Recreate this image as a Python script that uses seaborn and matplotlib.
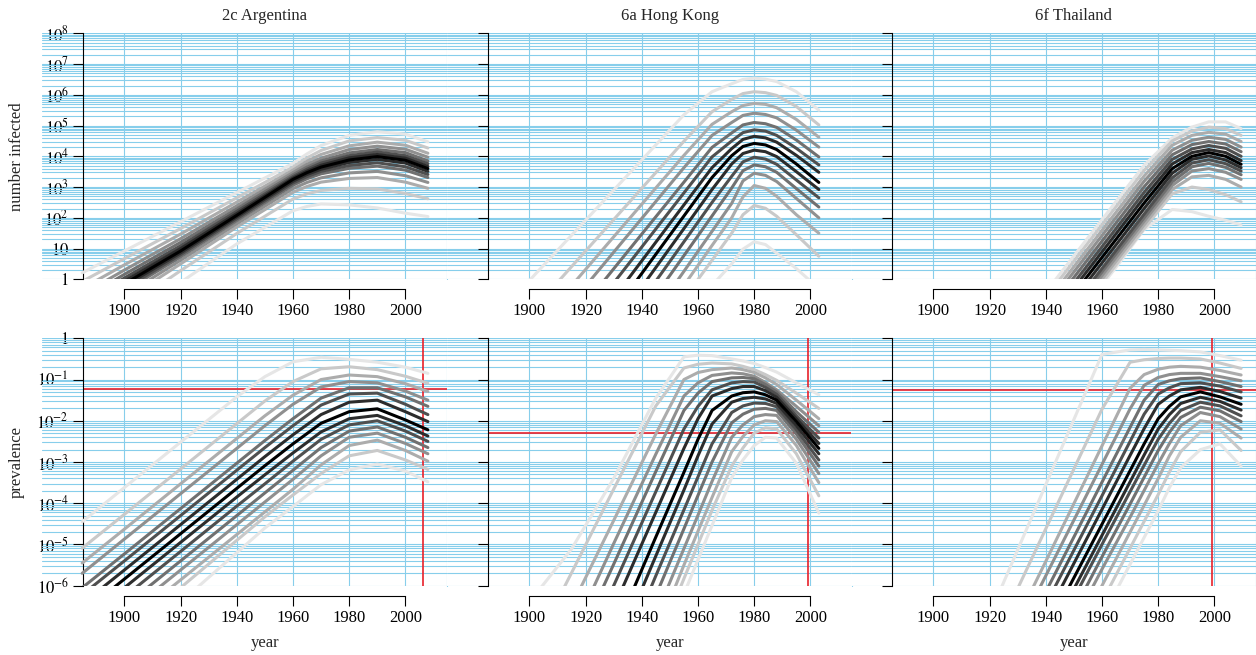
import numpy as np
import pandas as pd
import seaborn as sns
import matplotlib.pyplot as plt
import matplotlib.transforms as mtransforms
from matplotlib.ticker import FixedLocator, LogLocator, NullFormatter

titles = ["2c Argentina", "6a Hong Kong", "6f Thailand"]

# log10 values at a few years per panel.
# rows: lightest upper curve -> black centre curve -> lightest lower curve
arg_years_top = [1885, 1900, 1920, 1940, 1960, 1965, 1970, 1980, 1990, 2000, 2008]
arg_infected = [
    [0.21, 0.92, 1.87, 2.82, 3.77, 4.08, 4.35, 4.68, 4.80, 4.72, 4.47],
    [-0.07, 0.67, 1.65, 2.65, 3.65, 3.95, 4.19, 4.50, 4.61, 4.52, 4.27],
    [-0.30, 0.47, 1.47, 2.51, 3.55, 3.84, 4.06, 4.34, 4.46, 4.36, 4.10],
    [-0.49, 0.30, 1.32, 2.39, 3.47, 3.74, 3.94, 4.22, 4.33, 4.23, 3.97],
    [-0.65, 0.16, 1.20, 2.29, 3.40, 3.65, 3.85, 4.11, 4.22, 4.12, 3.85],
    [-0.78, 0.04, 1.09, 2.21, 3.34, 3.58, 3.78, 4.02, 4.14, 4.02, 3.76],
    [-0.90, -0.06, 1.00, 2.14, 3.29, 3.52, 3.71, 3.95, 4.06, 3.94, 3.67],
    [-1.00, -0.15, 0.92, 2.08, 3.25, 3.47, 3.65, 3.88, 3.99, 3.87, 3.60],
    [-1.08, -0.22, 0.86, 2.03, 3.19, 3.41, 3.58, 3.80, 3.90, 3.78, 3.51],
    [-1.18, -0.31, 0.80, 1.97, 3.13, 3.34, 3.51, 3.70, 3.79, 3.66, 3.41],
    [-1.28, -0.39, 0.73, 1.91, 3.06, 3.27, 3.43, 3.61, 3.68, 3.55, 3.31],
    [-1.44, -0.53, 0.62, 1.81, 2.95, 3.15, 3.30, 3.46, 3.51, 3.37, 3.15],
    [-1.62, -0.68, 0.50, 1.70, 2.83, 3.02, 3.16, 3.28, 3.31, 3.16, 2.96],
    [-1.95, -0.97, 0.28, 1.49, 2.61, 2.78, 2.89, 2.96, 2.94, 2.79, 2.62],
    [-2.50, -1.45, -0.10, 1.15, 2.23, 2.37, 2.45, 2.42, 2.32, 2.15, 2.04],
]

arg_years_bot = [1885, 1900, 1920, 1940, 1950, 1960, 1970, 1980, 1990, 2000, 2008]
arg_prevalence = [
    [-4.45, -3.62, -2.52, -1.42, -0.93, -0.57, -0.46, -0.51, -0.58, -0.70, -0.85],
    [-5.09, -4.27, -3.17, -2.07, -1.52, -1.05, -0.74, -0.69, -0.76, -0.92, -1.09],
    [-5.45, -4.63, -3.53, -2.43, -1.88, -1.38, -1.00, -0.89, -0.93, -1.10, -1.29],
    [-5.70, -4.87, -3.77, -2.67, -2.12, -1.60, -1.18, -1.05, -1.08, -1.28, -1.50],
    [-6.05, -5.23, -4.13, -3.03, -2.48, -1.95, -1.45, -1.20, -1.20, -1.42, -1.65],
    [-6.22, -5.40, -4.30, -3.20, -2.65, -2.12, -1.62, -1.35, -1.33, -1.60, -1.85],
    [-6.44, -5.62, -4.52, -3.42, -2.87, -2.34, -1.85, -1.55, -1.50, -1.78, -2.02],
    [-6.66, -5.84, -4.74, -3.64, -3.09, -2.56, -2.06, -1.78, -1.71, -1.98, -2.22],
    [-6.88, -6.05, -4.95, -3.85, -3.31, -2.78, -2.27, -1.95, -1.87, -2.12, -2.37],
    [-7.10, -6.27, -5.17, -4.07, -3.53, -2.98, -2.45, -2.10, -2.00, -2.25, -2.50],
    [-7.32, -6.50, -5.40, -4.30, -3.75, -3.20, -2.65, -2.25, -2.15, -2.40, -2.65],
    [-7.54, -6.72, -5.62, -4.52, -3.97, -3.42, -2.85, -2.40, -2.30, -2.55, -2.80],
    [-7.80, -6.96, -5.86, -4.76, -4.21, -3.66, -3.07, -2.60, -2.47, -2.72, -2.98],
    [-8.10, -7.20, -6.05, -4.90, -4.33, -3.80, -3.28, -2.85, -2.72, -2.95, -3.18],
    [-8.50, -7.60, -6.40, -5.20, -4.60, -4.08, -3.55, -3.19, -3.05, -3.22, -3.48],
]

hk_years_top = [1900, 1920, 1940, 1955, 1965, 1972, 1976, 1980, 1984, 1988, 1995, 2003]
hk_infected = [
    [-0.04, 1.92, 3.88, 5.35, 6.10, 6.36, 6.50, 6.54, 6.51, 6.43, 6.10, 5.50],
    [-1.12, 0.92, 2.96, 4.49, 5.45, 5.85, 6.04, 6.10, 6.07, 5.98, 5.62, 5.02],
    [-1.80, 0.32, 2.44, 4.03, 5.04, 5.45, 5.65, 5.72, 5.69, 5.58, 5.20, 4.62],
    [-2.42, -0.22, 1.98, 3.63, 4.68, 5.10, 5.33, 5.40, 5.36, 5.25, 4.85, 4.30],
    [-3.05, -0.79, 1.47, 3.16, 4.29, 4.76, 5.02, 5.10, 5.06, 4.94, 4.53, 3.98],
    [-3.63, -1.29, 1.05, 2.81, 3.98, 4.50, 4.77, 4.86, 4.82, 4.68, 4.26, 3.72],
    [-4.24, -1.82, 0.60, 2.42, 3.63, 4.25, 4.55, 4.65, 4.60, 4.46, 4.03, 3.48],
    [-4.81, -2.31, 0.19, 2.06, 3.31, 4.02, 4.32, 4.42, 4.37, 4.22, 3.75, 3.15],
    [-5.33, -2.79, -0.25, 1.65, 2.92, 3.75, 4.09, 4.20, 4.15, 3.99, 3.50, 2.92],
    [-5.82, -3.26, -0.70, 1.22, 2.50, 3.35, 3.82, 3.97, 3.91, 3.74, 3.23, 2.65],
    [-6.30, -3.74, -1.16, 0.77, 2.06, 2.97, 3.53, 3.72, 3.66, 3.48, 2.95, 2.35],
    [-6.90, -4.29, -1.69, 0.26, 1.56, 2.47, 3.20, 3.45, 3.38, 3.18, 2.63, 2.00],
    [-7.30, -4.75, -2.15, -0.20, 1.10, 2.00, 2.68, 3.05, 2.96, 2.70, 2.10, 1.50],
    [-7.50, -5.00, -2.50, -0.63, 0.62, 1.50, 2.10, 2.40, 2.31, 2.05, 1.45, 0.75],
    [-6.70, -4.70, -2.70, -1.20, -0.20, 0.50, 0.98, 1.22, 1.13, 0.85, 0.35, -0.30],
]

hk_years_bot = [1900, 1915, 1930, 1945, 1955, 1960, 1965, 1972, 1976, 1980, 1984, 1988, 1995, 2003]
hk_prevalence = [
    [-6.40, -5.11, -3.40, -1.45, -0.45, -0.41, -0.42, -0.50, -0.55, -0.61, -0.71, -0.82, -1.08, -1.37],
    [-7.70, -5.69, -3.66, -1.64, -0.72, -0.63, -0.60, -0.62, -0.68, -0.76, -0.88, -1.02, -1.33, -1.70],
    [-8.60, -6.50, -4.42, -2.32, -1.00, -0.83, -0.76, -0.72, -0.76, -0.83, -0.96, -1.12, -1.50, -1.95],
    [-9.30, -7.20, -4.98, -2.81, -1.40, -1.08, -0.90, -0.84, -0.86, -0.92, -1.07, -1.25, -1.65, -2.12],
    [-10.0, -7.70, -5.48, -3.23, -1.75, -1.33, -1.05, -0.96, -0.95, -0.98, -1.12, -1.30, -1.78, -2.28],
    [-10.6, -8.30, -6.00, -3.72, -2.20, -1.65, -1.25, -1.08, -1.05, -1.06, -1.19, -1.36, -1.88, -2.42],
    [-11.2, -8.90, -6.54, -4.22, -2.67, -1.95, -1.40, -1.22, -1.17, -1.17, -1.27, -1.43, -1.95, -2.55],
    [-11.9, -9.50, -7.20, -4.82, -3.25, -2.45, -1.75, -1.40, -1.32, -1.30, -1.37, -1.50, -2.02, -2.67],
    [-12.5, -10.1, -7.70, -5.28, -3.68, -2.85, -2.08, -1.55, -1.46, -1.43, -1.47, -1.58, -2.12, -2.80],
    [-13.0, -10.6, -8.20, -5.76, -4.16, -3.36, -2.56, -1.80, -1.64, -1.57, -1.58, -1.66, -2.22, -2.95],
    [-13.5, -11.1, -8.70, -6.24, -4.62, -3.81, -3.00, -2.05, -1.84, -1.72, -1.70, -1.75, -2.32, -3.10],
    [-14.0, -11.6, -9.20, -6.73, -5.10, -4.29, -3.47, -2.40, -2.10, -1.90, -1.85, -1.87, -2.45, -3.28],
    [-14.6, -12.1, -9.60, -7.20, -5.50, -4.68, -3.86, -2.75, -2.38, -2.10, -2.00, -2.02, -2.60, -3.50],
    [-15.0, -12.5, -10.0, -7.50, -5.83, -5.00, -4.17, -3.10, -2.66, -2.30, -2.17, -2.20, -2.80, -3.82],
    [-15.3, -12.8, -10.3, -7.90, -6.20, -5.37, -4.54, -3.38, -2.95, -2.60, -2.40, -2.42, -3.03, -4.24],
]

th_years_top = [1935, 1945, 1955, 1965, 1975, 1985, 1992, 1998, 2004, 2009.5]
th_infected = [
    [-1.01, 0.17, 1.35, 2.53, 3.71, 4.60, 4.95, 5.12, 5.12, 4.90],
    [-1.18, 0.00, 1.18, 2.36, 3.54, 4.50, 4.82, 4.95, 4.90, 4.68],
    [-1.36, -0.18, 1.00, 2.18, 3.36, 4.36, 4.68, 4.78, 4.72, 4.48],
    [-1.53, -0.35, 0.83, 2.01, 3.19, 4.20, 4.52, 4.62, 4.55, 4.30],
    [-1.71, -0.53, 0.65, 1.83, 3.01, 4.05, 4.38, 4.48, 4.40, 4.15],
    [-1.89, -0.71, 0.47, 1.65, 2.83, 3.90, 4.24, 4.35, 4.26, 4.00],
    [-2.06, -0.89, 0.30, 1.48, 2.66, 3.75, 4.12, 4.22, 4.12, 3.86],
    [-2.24, -1.06, 0.12, 1.30, 2.48, 3.60, 4.00, 4.12, 4.00, 3.74],
    [-2.42, -1.24, -0.06, 1.12, 2.30, 3.45, 3.90, 4.01, 3.88, 3.63],
    [-2.60, -1.42, -0.24, 0.94, 2.12, 3.30, 3.78, 3.89, 3.76, 3.52],
    [-2.71, -1.53, -0.35, 0.83, 2.00, 3.17, 3.66, 3.77, 3.64, 3.40],
    [-2.83, -1.65, -0.47, 0.71, 1.89, 3.05, 3.52, 3.60, 3.48, 3.25],
    [-2.95, -1.77, -0.59, 0.59, 1.77, 2.92, 3.33, 3.38, 3.25, 3.00],
    [-3.07, -1.89, -0.71, 0.47, 1.65, 2.78, 3.00, 2.92, 2.75, 2.52],
    [-3.15, -1.97, -0.79, 0.39, 1.62, 2.27, 2.20, 2.05, 1.92, 1.77],
]

th_years_bot = [1920, 1930, 1940, 1950, 1960, 1970, 1975, 1980, 1984, 1988, 1995, 2002, 2009.5]
th_prevalence = [
    [-6.71, -5.13, -3.55, -1.97, -0.39, -0.28, -0.27, -0.28, -0.29, -0.30, -0.33, -0.42, -0.53],
    [-7.52, -6.07, -4.62, -3.17, -1.72, -0.58, -0.52, -0.49, -0.48, -0.48, -0.50, -0.60, -0.73],
    [-8.20, -6.80, -5.41, -4.01, -2.61, -1.21, -0.88, -0.75, -0.70, -0.68, -0.70, -0.78, -0.89],
    [-8.46, -7.11, -5.76, -4.41, -3.06, -1.71, -1.14, -0.95, -0.88, -0.85, -0.85, -0.93, -1.03],
    [-8.81, -7.48, -6.15, -4.82, -3.49, -2.16, -1.50, -1.12, -1.03, -0.98, -0.96, -1.05, -1.17],
    [-9.10, -7.78, -6.46, -5.14, -3.82, -2.50, -1.84, -1.35, -1.20, -1.10, -1.08, -1.16, -1.30],
    [-9.40, -8.08, -6.77, -5.46, -4.15, -2.84, -2.19, -1.60, -1.40, -1.25, -1.19, -1.29, -1.45],
    [-9.71, -8.41, -7.11, -5.81, -4.51, -3.21, -2.56, -1.95, -1.65, -1.42, -1.30, -1.42, -1.60],
    [-9.98, -8.68, -7.38, -6.08, -4.78, -3.48, -2.83, -2.20, -1.85, -1.58, -1.43, -1.53, -1.74],
    [-10.2, -8.90, -7.60, -6.30, -5.00, -3.72, -3.08, -2.45, -2.06, -1.75, -1.55, -1.64, -1.88],
    [-10.5, -9.20, -7.90, -6.60, -5.30, -4.02, -3.37, -2.72, -2.28, -1.92, -1.67, -1.76, -2.02],
    [-10.8, -9.50, -8.20, -6.90, -5.60, -4.34, -3.69, -3.04, -2.55, -2.12, -1.80, -1.90, -2.20],
    [-11.2, -9.90, -8.60, -7.30, -6.00, -4.70, -4.05, -3.40, -2.85, -2.40, -2.00, -2.06, -2.42],
    [-11.6, -10.3, -9.00, -7.70, -6.39, -5.09, -4.44, -3.79, -3.24, -2.75, -2.28, -2.22, -2.72],
    [-11.9, -10.6, -9.40, -8.10, -6.78, -5.48, -4.83, -4.18, -3.62, -3.14, -2.70, -2.56, -3.10],
]

# red reference lines in the prevalence row
red_prev = [0.058, 0.0051, 0.0557]
red_year = [2006.2, 1999.0, 1999.0]

year_ticks = [1900, 1920, 1940, 1960, 1980, 2000]
infected_ticks = [1, 10, 1e2, 1e3, 1e4, 1e5, 1e6, 1e7, 1e8]
infected_labels = ["$1$", "$10$", "$10^{2}$", "$10^{3}$", "$10^{4}$",
                   "$10^{5}$", "$10^{6}$", "$10^{7}$", "$10^{8}$"]
prev_ticks = [1e-6, 1e-5, 1e-4, 1e-3, 1e-2, 1e-1, 1]
prev_labels = ["$10^{-6}$", "$10^{-5}$", "$10^{-4}$", "$10^{-3}$",
               "$10^{-2}$", "$10^{-1}$", "$1$"]

top_panels = [(arg_years_top, arg_infected), (hk_years_top, hk_infected), (th_years_top, th_infected)]
bot_panels = [(arg_years_bot, arg_prevalence), (hk_years_bot, hk_prevalence), (th_years_bot, th_prevalence)]

sns.set_theme(style="ticks")
plt.rcParams["font.family"] = ["Liberation Serif", "DejaVu Serif"]
plt.rcParams["mathtext.fontset"] = "stix"

GRID = "#87ceeb"
RED = "#e8202a"
W, H = 1256, 655
X0, X1 = 1870.7, 2014.8
SPINE_X = 1885.3
col_left = [42, 447, 851]
rows_px = [(33.3, 279.3), (338.3, 585.7)]

fig = plt.figure(figsize=(W / 100, H / 100), dpi=100)


def shade(i, n):
    half = (n - 1) / 2
    g = 0.9 * (abs(i - half) / half) ** 0.85
    return (g, g, g)


def draw_curves(ax, years, table):
    n = len(table)
    rows = []
    for i, logs in enumerate(table):
        for yr, lv in zip(years, logs):
            rows.append({"year": yr, "value": 10.0 ** lv, "curve": f"c{i}"})
    df = pd.DataFrame(rows)
    half = (n - 1) / 2
    order = sorted(range(n), key=lambda i: -abs(i - half))
    sns.lineplot(data=df, x="year", y="value", hue="curve",
                 hue_order=[f"c{i}" for i in order],
                 palette={f"c{i}": shade(i, n) for i in range(n)},
                 estimator=None, sort=False, legend=False,
                 linewidth=2.2, solid_joinstyle="round", ax=ax, zorder=3)


def style_axes(ax, ylim, yticks, ylabels, show_ylabels):
    ax.set_xlim(X0, X1)
    ax.set_yscale("log")
    ax.set_ylim(*ylim)
    ax.set_axisbelow(True)
    ax.xaxis.set_major_locator(FixedLocator(year_ticks))
    ax.set_xticklabels([str(y) for y in year_ticks])
    ax.yaxis.set_major_locator(FixedLocator(yticks))
    ax.yaxis.set_minor_locator(LogLocator(base=10, subs=np.arange(2, 10), numticks=100))
    ax.yaxis.set_minor_formatter(NullFormatter())
    ax.set_yticklabels(ylabels if show_ylabels else [""] * len(yticks))
    ax.grid(True, axis="y", which="both", color=GRID, lw=0.8)
    ax.grid(True, axis="x", which="major", color=GRID, lw=0.8)
    ax.axvline(X1, color=GRID, lw=0.8, clip_on=False, zorder=0.5)
    for s in ("top", "right"):
        ax.spines[s].set_visible(False)
    ax.spines["left"].set_position(("data", SPINE_X))
    ax.spines["bottom"].set_position(("outward", 7.2))
    ax.spines["bottom"].set_bounds(1900, 2000)
    for s in ("left", "bottom"):
        ax.spines[s].set_color("black")
        ax.spines[s].set_linewidth(0.8)
    ax.tick_params(which="major", direction="out", length=7.2, width=0.8,
                   color="black", labelcolor="black", labelsize=12, pad=3)
    ax.tick_params(which="minor", length=0)
    ax.set_xlabel("")
    ax.set_ylabel("")


for r in range(2):
    top_px, bot_px = rows_px[r]
    for c in range(3):
        ax = fig.add_axes([col_left[c] / W, 1 - bot_px / H, 405 / W, (bot_px - top_px) / H])
        trans = mtransforms.blended_transform_factory(ax.transData, ax.transAxes)
        if r == 0:
            years, table = top_panels[c]
            draw_curves(ax, years, table)
            style_axes(ax, (1, 1e8), infected_ticks, infected_labels, c == 0)
            ax.text(1950, 1 + 17.3 / (bot_px - top_px), titles[c], transform=trans,
                    ha="center", va="center", fontsize=12)
        else:
            years, table = bot_panels[c]
            ax.hlines(red_prev[c], SPINE_X, X1, color=RED, lw=1.2, zorder=2)
            ax.axvline(red_year[c], color=RED, lw=1.2, zorder=2)
            draw_curves(ax, years, table)
            style_axes(ax, (1e-6, 1), prev_ticks, prev_labels, c == 0)
            ax.text(1950, -(643 - bot_px) / (bot_px - top_px), "year", transform=trans,
                    ha="center", va="center", fontsize=12)

fig.text(17 / W, 1 - 156.3 / H, "number infected", rotation=90, ha="center", va="center", fontsize=12)
fig.text(17 / W, 1 - 462 / H, "prevalence", rotation=90, ha="center", va="center", fontsize=12)

fig.savefig("out.png", dpi=100)
